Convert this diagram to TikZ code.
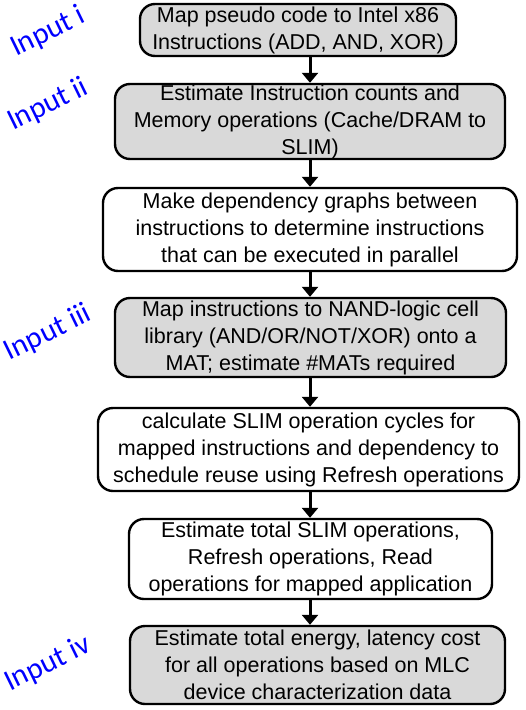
\documentclass[tikz,border=0pt]{standalone}
\usepackage{fontspec}
\setmainfont{Liberation Sans}
\newfontfamily\labelfont{Carlito}
\usetikzlibrary{positioning,arrows.meta}

\begin{document}
\begin{tikzpicture}[
			x=1pt,y=-1pt,
			>={Triangle[width=16pt,length=10pt]},
			stepbox/.style={
				draw,
				line width=2.4pt,
				rounded corners=15pt,
				align=center,
				inner sep=0pt,
				font=\fontsize{21.5}{27}\selectfont
			},
			graybox/.style={stepbox,fill=gray!30},
			whitebox/.style={stepbox,fill=white},
			inputlabel/.style={
				text=blue,
				rotate=26,
				font=\labelfont\fontsize{30}{30}\selectfont
			},
			flow/.style={->,line width=3pt}
			]
			
			\useasboundingbox (0,0) rectangle (526,710);
			
			%%%%%%%%%%%%%%%%%%%%%%%%%%%%%%%%%%%%%%%%%%%%%%%%%%%%%%%%%%%%
			% Flow steps
			%%%%%%%%%%%%%%%%%%%%%%%%%%%%%%%%%%%%%%%%%%%%%%%%%%%%%%%%%%%%
			
			\coordinate (spine) at (310,0);
			
			\node (x86) [graybox,minimum width=316pt,minimum height=52pt] at (298,30)
			{Map pseudo code to Intel x86\\Instructions (ADD, AND, XOR)};
			
			\node (counts) [graybox,minimum width=390pt,minimum height=75pt] at (310,121.5)
			{Estimate Instruction counts and\\Memory operations (Cache/DRAM to\\SLIM)};
			
			\node (deps) [whitebox,minimum width=414pt,minimum height=83pt] at (310,229.5)
			{Make dependency graphs between\\instructions to determine instructions\\that can be executed in parallel};
			
			\node (mats) [graybox,minimum width=391pt,minimum height=79pt] at (310.5,337.5)
			{Map instructions to NAND-logic cell\\library (AND/OR/NOT/XOR) onto a\\MAT; estimate \#MATs required};
			
			\node (cycles) [whitebox,minimum width=421pt,minimum height=83pt] at (308.5,449.5)
			{calculate SLIM operation cycles for\\mapped instructions and dependency to\\schedule reuse using Refresh operations};
			
			\node (ops) [whitebox,minimum width=363pt,minimum height=80pt] at (310.5,559)
			{Estimate total SLIM operations,\\Refresh operations, Read\\operations for mapped application};
			
			\node (energy) [graybox,minimum width=375pt,minimum height=78pt] at (317.5,665)
			{Estimate total energy, latency cost\\for all operations based on MLC\\device characterization data};
			
			%%%%%%%%%%%%%%%%%%%%%%%%%%%%%%%%%%%%%%%%%%%%%%%%%%%%%%%%%%%%
			% Inputs
			%%%%%%%%%%%%%%%%%%%%%%%%%%%%%%%%%%%%%%%%%%%%%%%%%%%%%%%%%%%%
			
			\node (in1) [inputlabel] at (48,32) {Input i};
			
			\node (in2) [inputlabel] at (48,105) {Input ii};
			
			\node (in3) [inputlabel] at (48,333) {Input iii};
			
			\node (in4) [inputlabel] at (48,664) {Input iv};
			
			%%%%%%%%%%%%%%%%%%%%%%%%%%%%%%%%%%%%%%%%%%%%%%%%%%%%%%%%%%%%
			% Connections
			%%%%%%%%%%%%%%%%%%%%%%%%%%%%%%%%%%%%%%%%%%%%%%%%%%%%%%%%%%%%
			
			\draw[flow] (x86.south -| spine) -- (counts.north -| spine);
			
			\draw[flow] (counts.south -| spine) -- (deps.north -| spine);
			
			\draw[flow] (deps.south -| spine) -- (mats.north -| spine);
			
			\draw[flow] (mats.south -| spine) -- (cycles.north -| spine);
			
			\draw[flow] (cycles.south -| spine) -- (ops.north -| spine);
			
			\draw[flow] (ops.south -| spine) -- (energy.north -| spine);
			
		\end{tikzpicture}
\end{document}
